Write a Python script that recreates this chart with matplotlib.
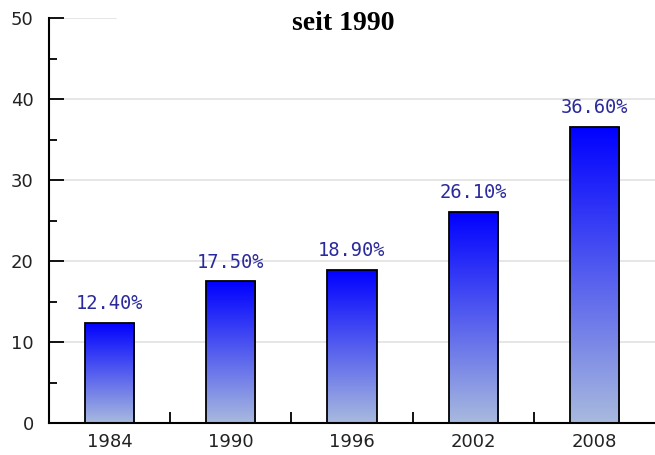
import numpy as np
import matplotlib
matplotlib.use('Agg')
import matplotlib.pyplot as plt
from matplotlib.colors import LinearSegmentedColormap

jahre = ['1984', '1990', '1996', '2002', '2008']
werte = [12.4, 17.5, 18.9, 26.1, 36.6]
etiketten = ['12.40%', '17.50%', '18.90%', '26.10%', '36.60%']

fig = plt.figure(figsize=(6.55, 4.55), dpi=100)
ax = fig.add_axes([49 / 655, 32 / 455, 606 / 655, 405 / 455])

x = np.arange(len(jahre))
bars = ax.bar(x, werte, width=0.405, color='none', edgecolor='black', linewidth=1.3, zorder=3)

# Farbverlauf in den Balken
verlauf = LinearSegmentedColormap.from_list('verlauf', ['#a8bade', '#0000ff'])
grad = np.linspace(0, 1, 256).reshape(-1, 1)
for b in bars:
    x0, w, h = b.get_x(), b.get_width(), b.get_height()
    im = ax.imshow(grad, cmap=verlauf, aspect='auto', origin='lower',
                   extent=(x0, x0 + w, 0, h), zorder=2)
    im.set_clip_path(b)

for xi, v, t in zip(x, werte, etiketten):
    ax.annotate(t, (xi, v), xytext=(0, 7), textcoords='offset points',
                ha='center', va='bottom', family='DejaVu Sans Mono',
                fontsize=13.5, color='#2a2a9c')

ax.set_xlim(-0.5, len(jahre) - 0.5)
ax.set_ylim(0, 50)

# Gitterlinien
for g in [10, 20, 30, 40]:
    ax.axhline(g, color='#e2e2e2', linewidth=1.2, zorder=1)
ax.axhline(50, xmax=0.11, color='#e2e2e2', linewidth=1.2, zorder=1)

ax.set_xticks(x)
ax.set_xticklabels(jahre)
ax.set_xticks(x[:-1] + 0.5, minor=True)
ax.set_yticks(range(0, 51, 10))
ax.set_yticks(range(5, 50, 10), minor=True)

ax.tick_params(axis='x', which='major', length=0, pad=7, labelsize=13)
ax.tick_params(axis='x', which='minor', direction='in', length=8, width=1.3)
ax.tick_params(axis='y', which='major', direction='in', length=11, width=1.3, pad=11,
               labelsize=13)
ax.tick_params(axis='y', which='minor', direction='in', length=6, width=1.3)
for lbl in ax.get_xticklabels() + ax.get_yticklabels():
    lbl.set_color('#222222')
    lbl.set_family('DejaVu Sans')
ax.tick_params(axis='both', which='both', color='black')

ax.spines['top'].set_visible(False)
ax.spines['right'].set_visible(False)
ax.spines['left'].set_linewidth(1.5)
ax.spines['bottom'].set_linewidth(1.5)

fig.text(343 / 655, 1 - 24 / 455, 'seit 1990', ha='center', va='center',
         family='Liberation Serif', fontweight='bold', fontsize=20)

fig.savefig('out.png', dpi=100)
